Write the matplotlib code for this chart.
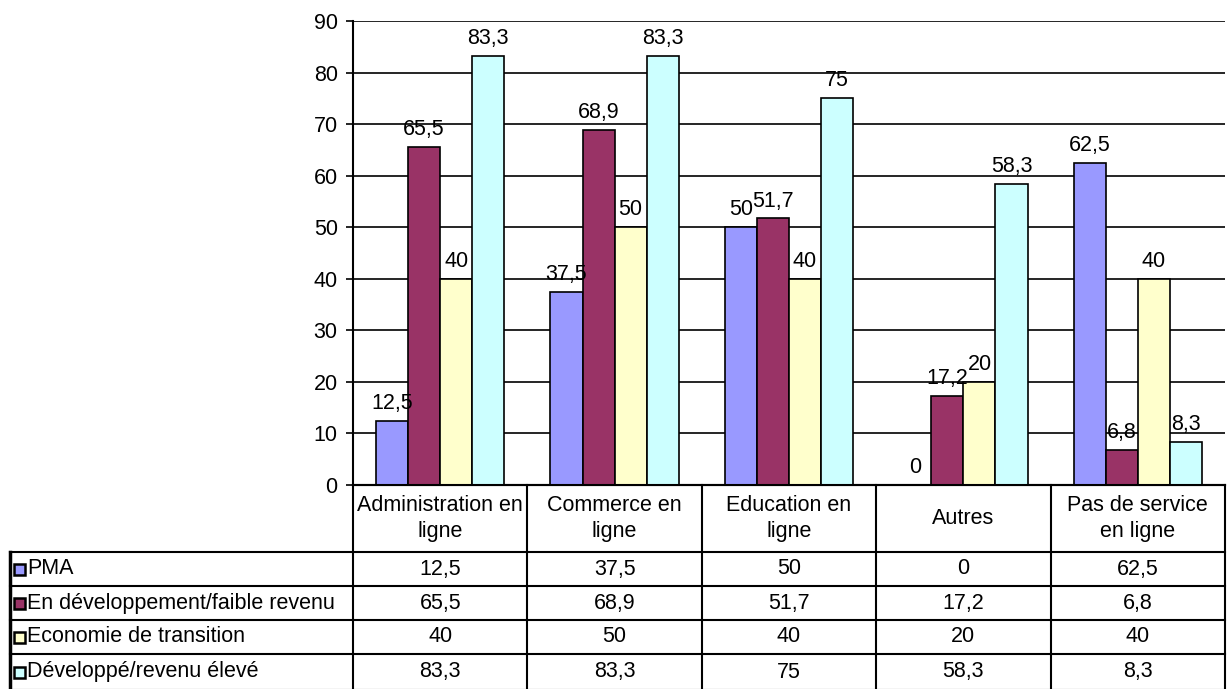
import numpy as np
import matplotlib
matplotlib.use("Agg")
import matplotlib.pyplot as plt

plt.rcParams['font.family'] = ['Liberation Sans', 'DejaVu Sans']

categories = ["Administration en\nligne", "Commerce en\nligne", "Education en\nligne",
              "Autres", "Pas de service\nen ligne"]
series_names = ["PMA", "En développement/faible revenu",
                "Economie de transition", "Développé/revenu élevé"]
pma = [12.5, 37.5, 50, 0, 62.5]
dev_low = [65.5, 68.9, 51.7, 17.2, 6.8]
transition = [40, 50, 40, 20, 40]
dev_high = [83.3, 83.3, 75, 58.3, 8.3]
colors = ["#9999FF", "#993366", "#FFFFCC", "#CCFFFF"]

values = [pma, dev_low, transition, dev_high]

def fmt(v):
    s = ("%.1f" % v).rstrip("0").rstrip(".")
    return s.replace(".", ",")

FS = 15.5
W, H = 1227, 689
fig = plt.figure(figsize=(W / 100, H / 100), dpi=100)

# plot area in pixel coordinates
x0, x1, ytop, ybot = 353, 1225, 21, 485
ax = fig.add_axes([x0 / W, 1 - ybot / H, (x1 - x0) / W, (ybot - ytop) / H])

n = len(categories)
bw = 0.184
x = np.arange(n)
for i, (vals, c) in enumerate(zip(values, colors)):
    pos = x + (i - 1.5) * bw
    ax.bar(pos, vals, width=bw, color=c, edgecolor="black", linewidth=1.2, zorder=3)
    for p, v in zip(pos, vals):
        ax.annotate(fmt(v), (p, v), xytext=(0, 5), textcoords="offset points",
                    ha="center", va="bottom", fontsize=FS, zorder=4)

ax.set_xlim(-0.5, n - 0.5)
ax.set_ylim(0, 90)
ax.set_yticks(range(0, 91, 10))
ax.tick_params(axis="y", labelsize=FS, length=5, width=1.2, direction="out", pad=6)
ax.tick_params(axis="x", length=0, labelbottom=False)
ax.grid(axis="y", color="black", linewidth=1.2, zorder=1)
for s in ["top", "right"]:
    ax.spines[s].set_visible(False)
ax.spines["left"].set_linewidth(1.5)
ax.spines["bottom"].set_linewidth(1.5)

# data table drawn in pixel coordinates
tab = fig.add_axes([0, 0, 1, 1])
tab.set_xlim(0, W)
tab.set_ylim(H, 0)
tab.axis("off")

col_w = (x1 - x0) / n
row_y = [485, 552, 586, 620, 654, 690]
lw = 1.5
# horizontal lines
tab.plot([x0, x1], [row_y[0], row_y[0]], color="black", lw=lw)
for yy in row_y[1:]:
    tab.plot([10, x1], [yy, yy], color="black", lw=lw)
# vertical lines
for j in range(n + 1):
    xx = x0 + j * col_w
    tab.plot([xx, xx], [row_y[0], row_y[-1]], color="black", lw=lw)
tab.plot([10, 10], [row_y[1], row_y[-1]], color="black", lw=2.5)

for j, cat in enumerate(categories):
    tab.text(x0 + (j + 0.5) * col_w, (row_y[0] + row_y[1]) / 2, cat,
             ha="center", va="center", fontsize=FS, linespacing=1.3)

for i, (name, vals, c) in enumerate(zip(series_names, values, colors)):
    yc = (row_y[i + 1] + row_y[i + 2]) / 2
    tab.add_patch(plt.Rectangle((14, yc - 5.5), 11, 11, facecolor=c,
                                edgecolor="black", lw=1.8))
    tab.text(27, yc, name, ha="left", va="center", fontsize=FS)
    for j, v in enumerate(vals):
        tab.text(x0 + (j + 0.5) * col_w, yc, fmt(v), ha="center", va="center", fontsize=FS)

fig.savefig("out.png", dpi=100)
